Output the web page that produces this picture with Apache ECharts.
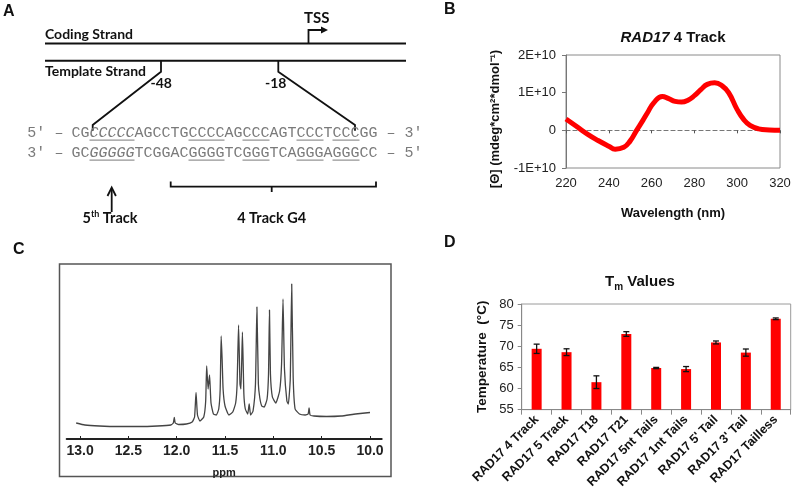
<!DOCTYPE html>
<html><head><meta charset="utf-8">
<script src="https://cdn.jsdelivr.net/npm/echarts@6/dist/echarts.min.js"></script>
<style>html,body{margin:0;padding:0;background:#fff}#c{width:800px;height:491px}</style>
</head><body><div id="c"></div>
<script>
// ---- Panel B: CD spectrum ----
const wavelengths = [220,225,230,235,240,243,247,250,253,256,258,261,265,268,271,274,277,280,283,286,289.5,293,296,300,303,306,310,315,320];
const cdValues = [3.0e9,1.0e9,-1.0e9,-2.7e9,-4.2e9,-5.0e9,-4.5e9,-2.8e9,0.0,2.7e9,4.6e9,7.3e9,9.0e9,8.4e9,7.7e9,7.5e9,8.0e9,9.2e9,10.8e9,12.2e9,12.6e9,11.8e9,10.0e9,5.5e9,2.9e9,1.3e9,0.4e9,0.1e9,0.0];
const cdXTicks = [220,240,260,280,300,320];
// ---- Panel C: 1H NMR imino region ----
const ppm = [13.04,12.95,12.8,12.6,12.4,12.2,12.06,12.035,12.025,12.015,11.98,11.9,11.84,11.815,11.80,11.785,11.76,11.72,11.70,11.69,11.675,11.66,11.645,11.62,11.59,11.565,11.55,11.54,11.53,11.52,11.50,11.46,11.42,11.39,11.375,11.36,11.345,11.335,11.32,11.305,11.29,11.265,11.25,11.235,11.21,11.185,11.17,11.155,11.14,11.12,11.095,11.065,11.05,11.04,11.03,11.01,10.975,10.935,10.915,10.90,10.885,10.86,10.845,10.825,10.81,10.795,10.775,10.73,10.67,10.64,10.63,10.62,10.58,10.45,10.3,10.15,10.0];
const intensity = [16,14,13,12.5,12.5,13,14,16,21.5,16,14.5,15,17,22,46.5,24,18,22,38,73,50,64,36,25,24,30,50,103,80,50,33,24,27,36,55,114,55,50,107,45,30,25,35,24,28,55,132,55,41,33,32,40,65,129,65,42,36,48,75,140,70,38,35,60,155,62,30,25,24,25,31,24,23,22.5,23,25,26.5];
const ppmTicks = [13.0,12.5,12.0,11.5,11.0,10.5,10.0];
// ---- Panel D: Tm values ----
const tmLabels = ["RAD17 4 Track","RAD17 5 Track","RAD17 T18","RAD17 T21","RAD17 5nt Tails","RAD17 1nt Tails","RAD17 5' Tail","RAD17 3' Tail","RAD17 Tailless"];
const tmValues = [69.4,68.6,61.5,72.9,64.85,64.6,70.9,68.5,76.5];
const tmErrors = [1.1,0.8,1.5,0.55,0.15,0.6,0.35,0.85,0.2];
// ---- Panel A: sequences ----
const codingSeq = "CGCCCCCAGCCTGCCCCAGCCCAGTCCCTCCCGG";
const templateSeq = "GCGGGGGTCGGACGGGGTCGGGTCAGGGAGGGCC";
const underlineRuns = [[2,7],[13,17],[19,22],[25,28],[29,32]];
const italicRun = [2,7];

const chart = echarts.init(document.getElementById('c'), null, {renderer:'canvas'});
const AR = 'Liberation Sans, Arial, sans-serif';
const CAL = 'Lato, Carlito, Calibri, sans-serif';
const MONO = 'Liberation Mono, Courier New, monospace';

// Panel A graphics
const G = [];
const black = '#111';
function line(pts, w){ G.push({type:'polyline', shape:{points:pts}, style:{stroke:black, lineWidth:w||2, fill:null}, silent:true}); }
function txt(x,y,s,opt){ G.push({type:'text', x:x, y:y, style:Object.assign({text:s, fill:black, font:'bold 14px '+CAL, textVerticalAlign:'middle'}, opt||{}), silent:true}); }
// panel letters
txt(3,12,'A',{font:'bold 16px '+AR});
txt(444,10,'B',{font:'bold 16px '+AR});
txt(13,250,'C',{font:'bold 16px '+AR});
txt(444,243,'D',{font:'bold 16px '+AR});
// strands
line([[45,43.5],[406,43.5]],2);
line([[45,60.7],[406,60.7]],2);
txt(45,34.5,'Coding Strand',{font:'bold 14px '+CAL});
txt(45,71.5,'Template Strand',{font:'bold 14px '+CAL});
// TSS
line([[308.5,43.5],[308.5,30],[322,30]],1.8);
G.push({type:'polygon', shape:{points:[[321,26.5],[328,30],[321,33.5]]}, style:{fill:black}, silent:true});
txt(316.7,18.5,'TSS',{font:'bold 15px '+CAL, textAlign:'center'});
// -48 / -18 connectors
line([[161,60.7],[161,71.7],[92.7,125],[92.7,130.7]],1.8);
line([[278.3,60.7],[278.3,71.7],[355,125],[355,130.7]],1.8);
txt(150.5,83.5,'-48',{font:'bold 14px '+CAL});
txt(265,83.5,'-18',{font:'bold 14px '+CAL});
// sequences
const cw = 9.0, seqX = 71.5, gray = '#7a7a7a';
function seqLine(y, p5, p3, seq){
  const f = '15px '+MONO;
  txt(27.3, y, p5, {font:f, fill:gray});
  txt(seqX-2*cw+1, y, '\u2013', {font:f, fill:gray});
  const a = seq.slice(0,italicRun[0]), b = seq.slice(italicRun[0],italicRun[1]), c = seq.slice(italicRun[1]);
  G.push({type:'text', x:seqX, y:y, silent:true, style:{text:'{n|'+a+'}{i|'+b+'}{n|'+c+'}', textVerticalAlign:'middle',
    rich:{n:{font:f, fill:gray}, i:{font:'italic '+f, fill:gray}}}});
  txt(seqX+(seq.length+1)*cw, y, '\u2013', {font:f, fill:gray});
  txt(seqX+(seq.length+3)*cw, y, p3, {font:f, fill:gray});
  underlineRuns.forEach(r=>{
    G.push({type:'line', shape:{x1:seqX+r[0]*cw, y1:y+7.3, x2:seqX+r[1]*cw, y2:y+7.3}, style:{stroke:gray, lineWidth:1}, silent:true});
  });
}
seqLine(132.8, '5\u2032', '3\u2032', codingSeq);
seqLine(152.8, '3\u2032', '5\u2032', templateSeq);
// bracket for 4 Track G4
line([[170.7,181.5],[170.7,186.7],[376,186.7],[376,181.5]],1.8);
line([[271.7,186.7],[271.7,192]],1.8);
// arrow for 5th track
line([[111.7,212],[111.7,188.5]],1.8);
line([[107.5,196],[111.7,187.5],[115.9,196]],1.8);
G.push({type:'text', x:110, y:218, silent:true, style:{text:'{a|5}{s|th}{a| Track}', textAlign:'center', textVerticalAlign:'middle',
  rich:{a:{font:'bold 14.5px '+CAL, fill:black, lineHeight:16, verticalAlign:'bottom'}, s:{font:'bold 9px '+CAL, fill:black, lineHeight:16, verticalAlign:'top', padding:[0,0,6,0]}}}});
txt(271.7,218,'4 Track G4',{font:'bold 14.5px '+CAL, textAlign:'center'});
// panel C frame
G.push({type:'rect', shape:{x:59.5,y:264,width:331.5,height:212.5}, style:{stroke:'#555', lineWidth:1.5, fill:null}, silent:true});
// titles
G.push({type:'text', x:673, y:38, silent:true, style:{text:'{i|RAD17}{n| 4 Track}', textAlign:'center', textVerticalAlign:'middle',
  rich:{i:{font:'italic bold 15px '+AR, fill:'#111'}, n:{font:'bold 15px '+AR, fill:'#111'}}}});
G.push({type:'text', x:640, y:283, silent:true, style:{text:'{a|T}{s|m}{a| Values}', textAlign:'center', textVerticalAlign:'middle',
  rich:{a:{font:'bold 15px '+AR, fill:'#111', lineHeight:18, verticalAlign:'top'}, s:{font:'bold 10px '+AR, fill:'#111', lineHeight:18, verticalAlign:'bottom', padding:[8,0,0,0]}}}});
// B y-axis name (rotated)
G.push({type:'text', x:495, y:119, rotation:Math.PI/2, silent:true, style:{text:'[\u0398] (mdeg*cm\u00b2*dmol\u207b\u00b9)', textAlign:'center', textVerticalAlign:'middle',
  font:'bold 13px '+AR, fill:'#111'}});

const axisLabelStyle = {fontFamily:AR, fontSize:13, color:'#222'};

chart.setOption({
  animation:false,
  backgroundColor:'#fff',
  graphic: G,
  grid:[
    {left:566, width:214, top:55, height:113, show:true, borderColor:'#8a8a8a', borderWidth:1, containLabel:false},
    {left:66.7, width:315, top:280, height:159, containLabel:false},
    {left:521.7, width:269, top:304, height:109.3, show:true, borderColor:'#9a9a9a', borderWidth:1, containLabel:false}
  ],
  xAxis:[
    {type:'value', gridIndex:0, min:220, max:320, interval:20,
      axisLine:{show:true, onZero:true, lineStyle:{color:'#777', type:[4,3], width:1.2}},
      axisTick:{show:true, inside:false, length:3, lineStyle:{color:'#555'}},
      axisLabel:{show:false}, splitLine:{show:false}},
    {type:'value', gridIndex:0, min:220, max:320, interval:20, position:'bottom',
      axisLine:{show:false, onZero:false}, axisTick:{show:false},
      axisLabel:Object.assign({margin:9, customValues:cdXTicks}, axisLabelStyle), splitLine:{show:false},
      name:'Wavelength (nm)', nameLocation:'middle', nameGap:39, nameTextStyle:{fontFamily:AR, fontSize:13, fontWeight:'bold', color:'#111'}},
    {type:'value', gridIndex:1, inverse:true, min:9.879, max:13.138,
      axisLine:{show:true, onZero:false, lineStyle:{color:'#222', width:2}},
      axisTick:{show:true, inside:true, length:3, customValues:ppmTicks, lineStyle:{color:'#222'}},
      axisLabel:{customValues:ppmTicks, formatter:v=>v.toFixed(1), fontFamily:AR, fontSize:14, fontWeight:'bold', color:'#222', margin:5},
      splitLine:{show:false},
      name:'ppm', nameLocation:'middle', nameGap:28, nameTextStyle:{fontFamily:AR, fontSize:11, fontWeight:'bold', color:'#222'}},
    {type:'category', gridIndex:2, data:tmLabels,
      axisLine:{show:true, lineStyle:{color:'#888'}},
      axisTick:{show:true, length:5, lineStyle:{color:'#888'}},
      axisLabel:{rotate:45, interval:0, fontFamily:AR, fontSize:12.5, fontWeight:'bold', color:'#111', margin:8}}
  ],
  yAxis:[
    {type:'value', gridIndex:0, min:-1e10, max:2e10, interval:1e10,
      axisLine:{show:true, lineStyle:{color:'#777'}}, axisTick:{show:true, length:4, lineStyle:{color:'#777'}},
      axisLabel:Object.assign({margin:10, formatter:v=> v===0?'0':(v/1e10)+'E+10'}, axisLabelStyle),
      splitLine:{show:false}},
    {type:'value', gridIndex:1, min:0, max:159, show:false},
    {type:'value', gridIndex:2, min:55, max:80, interval:5,
      axisLine:{show:true, lineStyle:{color:'#888'}}, axisTick:{show:true, length:4, lineStyle:{color:'#888'}},
      axisLabel:Object.assign({margin:8}, axisLabelStyle), splitLine:{show:false},
      name:'Temperature  (\u00b0C)', nameLocation:'middle', nameGap:32,
      nameTextStyle:{fontFamily:AR, fontSize:13.5, fontWeight:'bold', color:'#111'}}
  ],
  series:[
    {type:'line', xAxisIndex:0, yAxisIndex:0, data:wavelengths.map((w,i)=>[w,cdValues[i]]),
      smooth:0.5, showSymbol:false, lineStyle:{color:'#ff0000', width:5}, z:5},
    {type:'line', xAxisIndex:2, yAxisIndex:1, data:ppm.map((p,i)=>[p,intensity[i]]),
      smooth:0.15, showSymbol:false, lineStyle:{color:'#444', width:1.3}},
    {type:'bar', xAxisIndex:3, yAxisIndex:2, data:tmValues, barWidth:10, itemStyle:{color:'#ff0000'}},
    {type:'custom', xAxisIndex:3, yAxisIndex:2, z:10,
      data:tmValues.map((v,i)=>[i,v,tmErrors[i]]),
      renderItem:function(params, api){
        const x=api.value(0), v=api.value(1), e=api.value(2);
        const t=api.coord([x,v+e]), b=api.coord([x,v-e]), hw=3;
        const st={stroke:'#111', lineWidth:1.3};
        return {type:'group', children:[
          {type:'line', shape:{x1:t[0],y1:t[1],x2:b[0],y2:b[1]}, style:st},
          {type:'line', shape:{x1:t[0]-hw,y1:t[1],x2:t[0]+hw,y2:t[1]}, style:st},
          {type:'line', shape:{x1:b[0]-hw,y1:b[1],x2:b[0]+hw,y2:b[1]}, style:st}
        ]};
      }}
  ]
});
</script></body></html>
